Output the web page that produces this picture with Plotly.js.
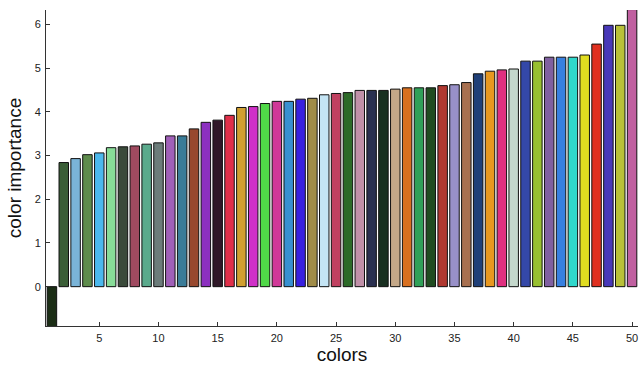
<!DOCTYPE html>
<html>
<head>
<meta charset="utf-8">
<script src="https://cdn.plot.ly/plotly-3.0.1.min.js"></script>
<style>html,body{margin:0;padding:0;background:#fff}#chart{width:641px;height:366px}</style>
</head>
<body>
<div id="chart"></div>
<script>
const colorIndex = [1,2,3,4,5,6,7,8,9,10,11,12,13,14,15,16,17,18,19,20,21,22,23,24,25,26,27,28,29,30,31,32,33,34,35,36,37,38,39,40,41,42,43,44,45,46,47,48,49,50];
const importance = [-1.0,2.84,2.93,3.02,3.06,3.18,3.20,3.22,3.26,3.29,3.45,3.45,3.61,3.76,3.81,3.92,4.10,4.12,4.19,4.24,4.24,4.29,4.31,4.39,4.42,4.44,4.49,4.49,4.49,4.52,4.55,4.55,4.55,4.60,4.62,4.67,4.87,4.93,4.96,4.98,5.16,5.16,5.25,5.25,5.25,5.30,5.55,5.98,5.98,6.34];
const barColors = ['#1c2e16','#3a5e36','#7ab4d8','#5e8c4c','#4cb8ec','#88dc98','#3a4a3a','#a04a60','#5aaa8c','#6c7c7a',
'#a060b8','#3a7c98','#98482e','#8c30c0','#301828','#e0304a','#d0a030','#d030c8','#50d848','#d03898',
'#3890d0','#3820e0','#a08c48','#c4e4f4','#c04060','#2c6a28','#c090a8','#2a3050','#183020','#c4a888',
'#d87020','#30a058','#204c20','#b03830','#9890c8','#a87050','#204078','#e89820','#e03080','#c4d8cc',
'#3448a8','#98c030','#8060a0','#3880e0','#30d8cc','#e0dc20','#e03020','#4838b8','#b8c038','#c060a0'];
const xTicks = [5,10,15,20,25,30,35,40,45,50];
const yTicks = [0,1,2,3,4,5,6];

Plotly.newPlot('chart', [{
  type: 'bar',
  x: colorIndex,
  y: importance,
  width: 0.8,
  marker: {color: barColors, line: {color: '#111', width: 1}},
  hoverinfo: 'none'
}], {
  width: 641, height: 366,
  margin: {l: 46, r: 3, t: 10, b: 40},
  paper_bgcolor: '#fff', plot_bgcolor: '#fff',
  showlegend: false,
  font: {family: 'Liberation Sans, Arial, sans-serif', color: '#222'},
  xaxis: {
    range: [0.5, 50.5],
    tickvals: xTicks, ticktext: xTicks.map(String),
    ticks: 'inside', ticklen: 4, tickcolor: '#333', tickwidth: 1,
    ticklabelstandoff: 2,
    showline: true, linecolor: '#333', linewidth: 1,
    showgrid: false, zeroline: false,
    tickfont: {size: 11, color: '#222'},
    title: {text: 'colors', font: {size: 19, color: '#111'}, standoff: 4}
  },
  yaxis: {
    range: [-0.9, 6.33],
    tickvals: yTicks, ticktext: yTicks.map(String),
    ticks: 'inside', ticklen: 4, tickcolor: '#333', tickwidth: 1,
    ticklabelstandoff: 2,
    showline: true, linecolor: '#333', linewidth: 1,
    showgrid: false, zeroline: false,
    tickfont: {size: 11, color: '#222'},
    title: {text: 'color importance', font: {size: 19, color: '#111'}, standoff: 8}
  }
}, {staticPlot: true});
</script>
</body>
</html>
